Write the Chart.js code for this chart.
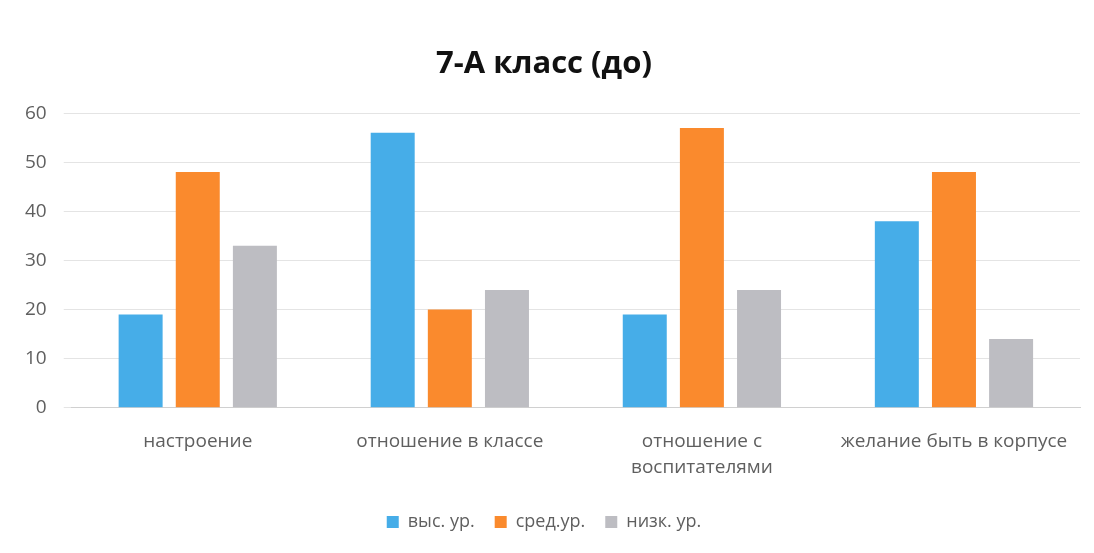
<!DOCTYPE html>
<html><head><meta charset="utf-8">
<script src="https://cdn.jsdelivr.net/npm/chart.js@4"></script>
<style>html,body{margin:0;padding:0;background:#fff}#w{width:1094px;height:553px}</style>
</head><body><div id="w"><canvas id="c"></canvas></div>
<script>
const categories = ["настроение", "отношение в классе", ["отношение с", "воспитателями"], "желание быть в корпусе"];
const seriesNames = ["выс. ур.", "сред.ур.", "низк. ур."];
const highLevel = [19, 56, 19, 38];
const midLevel = [48, 20, 57, 48];
const lowLevel = [33, 24, 24, 14];
const yTicks = [0, 10, 20, 30, 40, 50, 60];
const colors = ["#46ADE8", "#FA8A2D", "#BDBDC2"];

Chart.defaults.font.family = "'Open Sans', Lato, sans-serif";
Chart.defaults.color = "#5f5f5f";
new Chart(document.getElementById('c'), {
  type: 'bar',
  data: {
    labels: categories,
    datasets: [highLevel, midLevel, lowLevel].map((d, i) => ({
      label: seriesNames[i], data: d, backgroundColor: colors[i],
      categoryPercentage: 0.68, barPercentage: 0.77
    }))
  },
  options: {
    responsive: true, maintainAspectRatio: false, animation: false,
    layout: { padding: { left: 8, right: 14, top: 14, bottom: 12 } },
    plugins: {
      title: { display: true, text: "7-А класс (до)", color: "#111", font: { size: 31, weight: 'bold' }, padding: { top: 32, bottom: 30 } },
      legend: { position: 'bottom', labels: { boxWidth: 12, boxHeight: 12, font: { size: 18 }, padding: 20 } },
      tooltip: { enabled: false }
    },
    scales: {
      x: { grid: { display: false }, border: { color: '#d0d0d0' },
           ticks: { font: { size: 19, lineHeight: 1.4 }, maxRotation: 0, autoSkip: false, padding: 12 } },
      y: { min: 0, max: 60, afterBuildTicks: s => { s.ticks = yTicks.map(v => ({ value: v })); },
           grid: { color: '#e4e4e4' }, border: { display: false },
           ticks: { font: { size: 19 }, padding: 17 } }
    }
  }
});
</script></body></html>
